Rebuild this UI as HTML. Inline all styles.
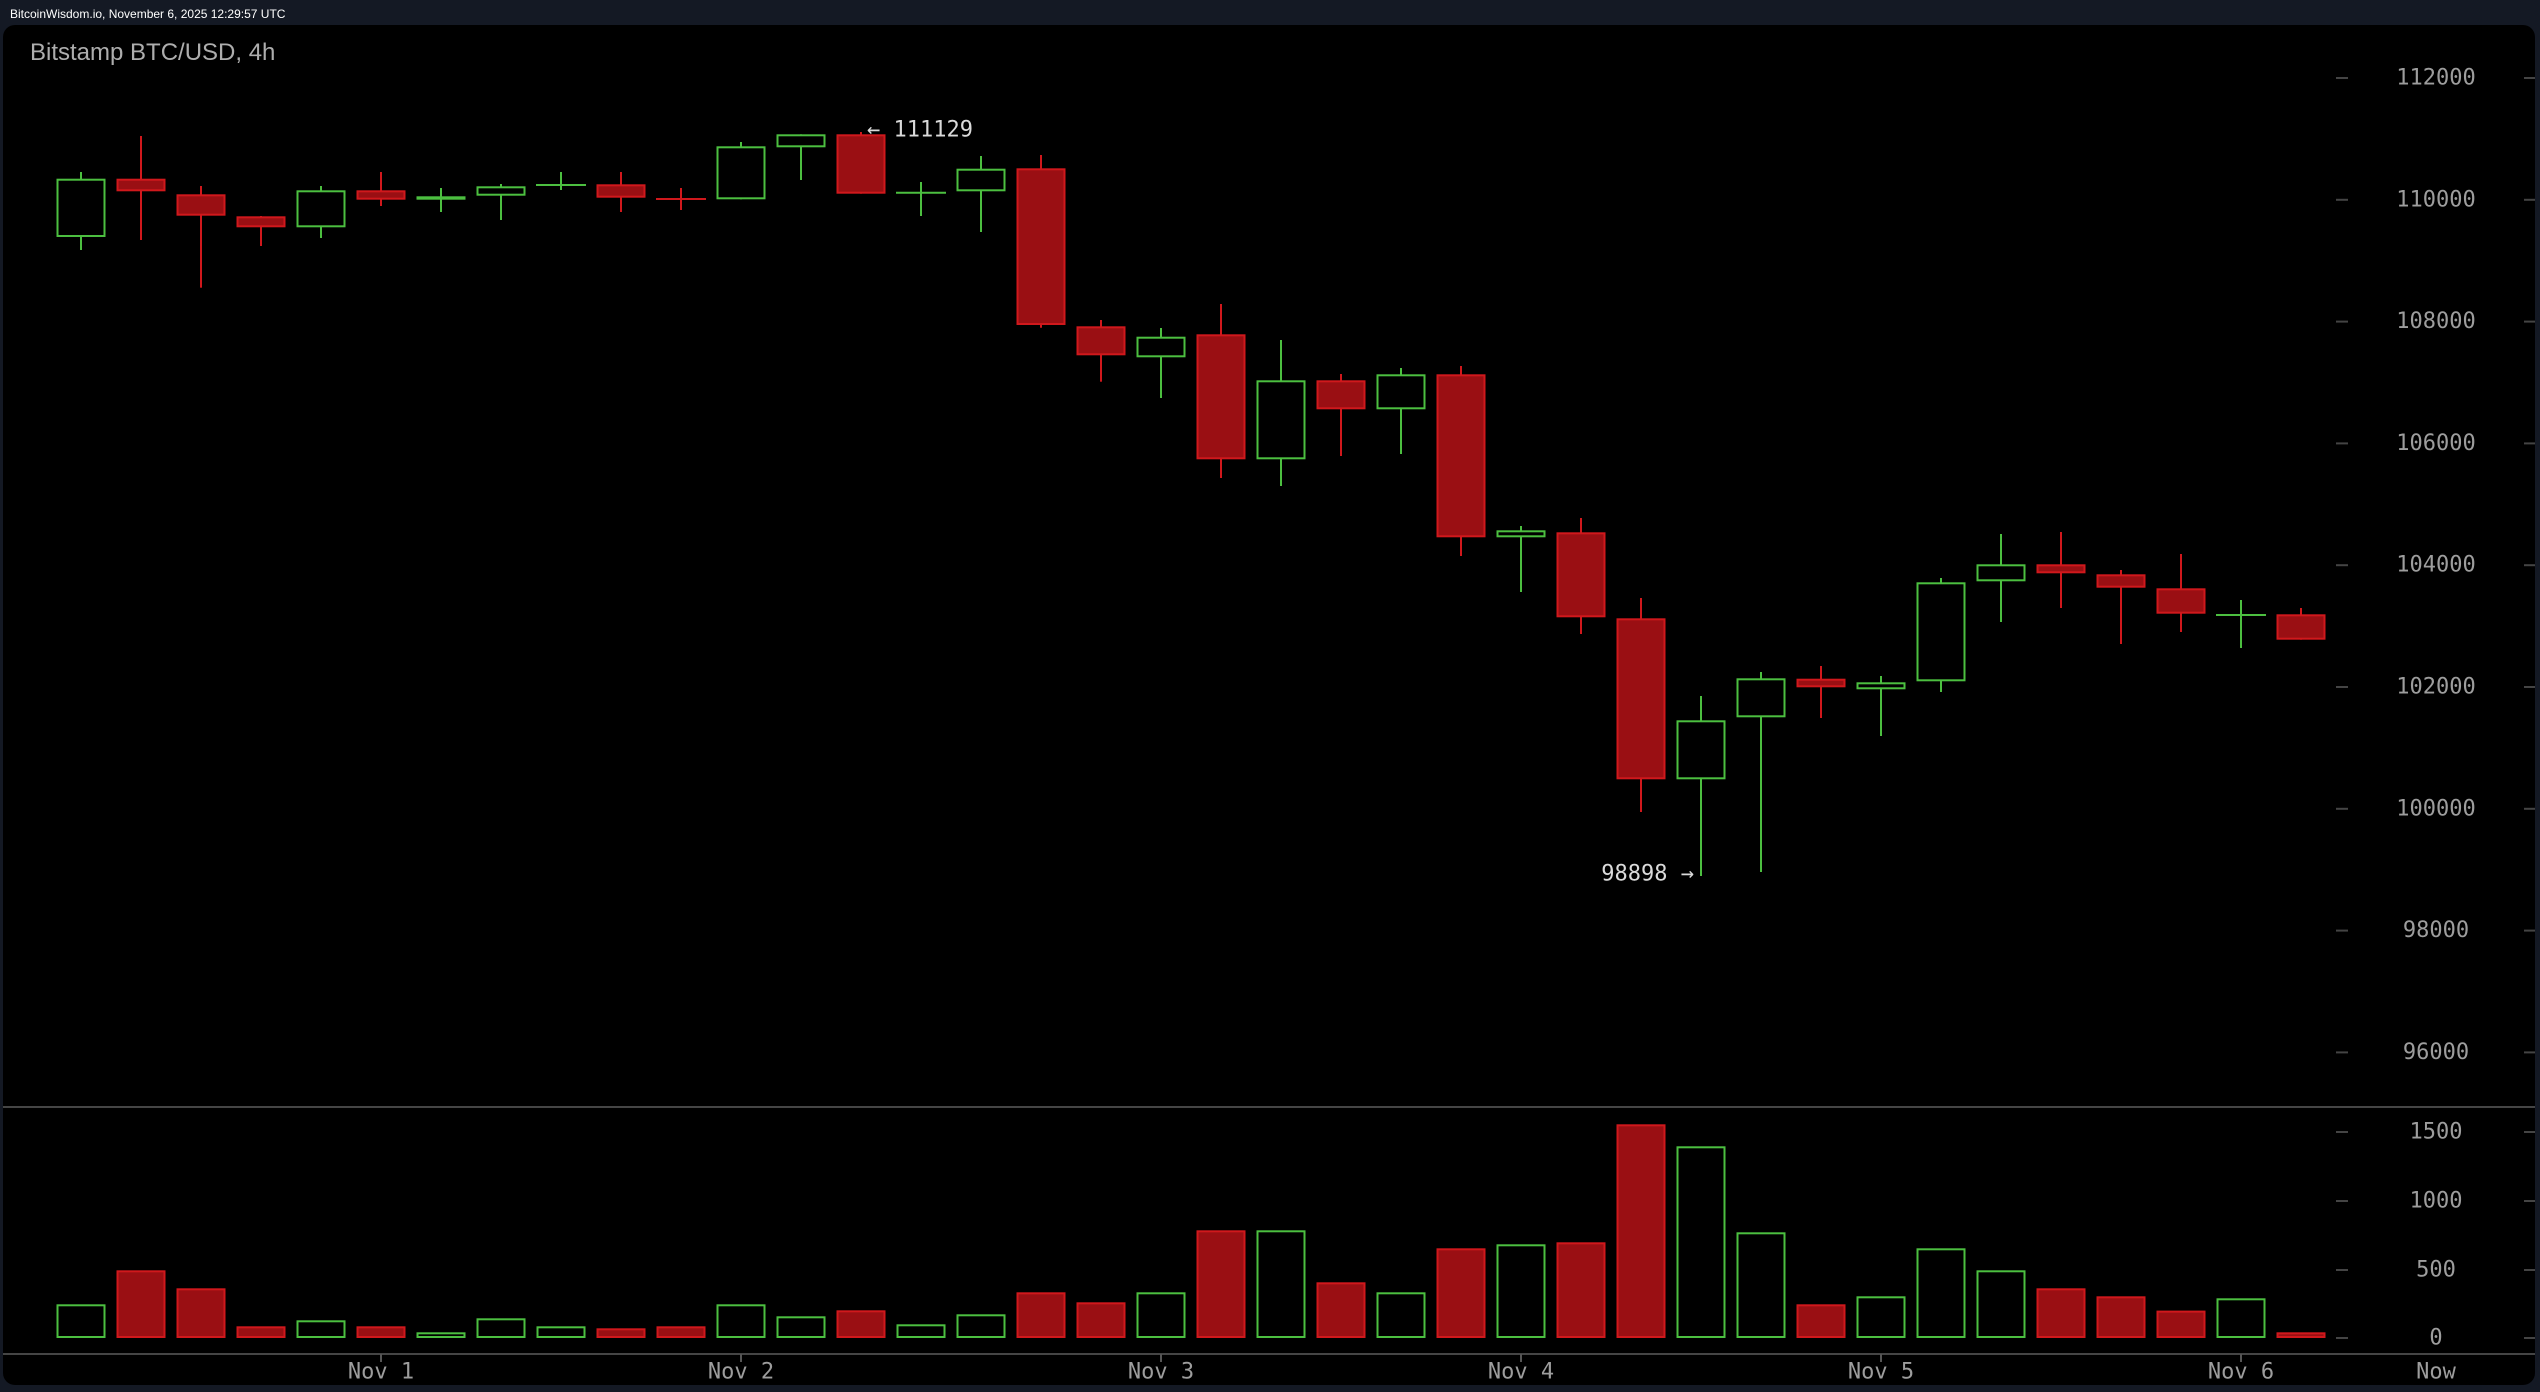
<!DOCTYPE html>
<html>
<head>
<meta charset="utf-8">
<style>
html,body{margin:0;padding:0;background:#141924;overflow:hidden;}
svg{display:block;}
.ax{font-family:"DejaVu Sans Mono","Liberation Mono",monospace;font-size:22px;fill:#9d9d9d;}
.an{font-family:"DejaVu Sans Mono","Liberation Mono",monospace;font-size:22px;fill:#dadada;}
</style>
</head>
<body>
<svg width="2540" height="1392" viewBox="0 0 2540 1392" xmlns="http://www.w3.org/2000/svg">
<rect x="0" y="0" width="2540" height="1392" fill="#141924"/>
<rect x="3" y="25" width="2532" height="1360" rx="12" ry="12" fill="#000"/>
<text x="10" y="18" font-family="'Liberation Sans',Arial,sans-serif" font-size="12" fill="#ffffff">BitcoinWisdom.io, November 6, 2025 12:29:57 UTC</text>
<text x="30" y="60" font-family="'Liberation Sans',Arial,sans-serif" font-size="24" fill="#adadad">Bitstamp BTC/USD, 4h</text>

<!-- separators -->
<line x1="3" y1="1107" x2="2535" y2="1107" stroke="#454545" stroke-width="2"/>
<line x1="3" y1="1354" x2="2535" y2="1354" stroke="#454545" stroke-width="2"/>

<!-- y axis ticks & labels -->
<g stroke="#444" stroke-width="2">
<line x1="2336" y1="78" x2="2348" y2="78"/><line x1="2524" y1="78" x2="2535" y2="78"/>
<line x1="2336" y1="199.8" x2="2348" y2="199.8"/><line x1="2524" y1="199.8" x2="2535" y2="199.8"/>
<line x1="2336" y1="321.6" x2="2348" y2="321.6"/><line x1="2524" y1="321.6" x2="2535" y2="321.6"/>
<line x1="2336" y1="443.4" x2="2348" y2="443.4"/><line x1="2524" y1="443.4" x2="2535" y2="443.4"/>
<line x1="2336" y1="565.2" x2="2348" y2="565.2"/><line x1="2524" y1="565.2" x2="2535" y2="565.2"/>
<line x1="2336" y1="687" x2="2348" y2="687"/><line x1="2524" y1="687" x2="2535" y2="687"/>
<line x1="2336" y1="808.8" x2="2348" y2="808.8"/><line x1="2524" y1="808.8" x2="2535" y2="808.8"/>
<line x1="2336" y1="930.6" x2="2348" y2="930.6"/><line x1="2524" y1="930.6" x2="2535" y2="930.6"/>
<line x1="2336" y1="1052.4" x2="2348" y2="1052.4"/><line x1="2524" y1="1052.4" x2="2535" y2="1052.4"/>
<line x1="2336" y1="1132" x2="2348" y2="1132"/><line x1="2524" y1="1132" x2="2535" y2="1132"/>
<line x1="2336" y1="1201" x2="2348" y2="1201"/><line x1="2524" y1="1201" x2="2535" y2="1201"/>
<line x1="2336" y1="1270" x2="2348" y2="1270"/><line x1="2524" y1="1270" x2="2535" y2="1270"/>
<line x1="2336" y1="1338" x2="2348" y2="1338"/><line x1="2524" y1="1338" x2="2535" y2="1338"/>
</g>
<g class="ax" text-anchor="middle" dominant-baseline="central">
<text x="2436" y="78">112000</text>
<text x="2436" y="199.8">110000</text>
<text x="2436" y="321.6">108000</text>
<text x="2436" y="443.4">106000</text>
<text x="2436" y="565.2">104000</text>
<text x="2436" y="687">102000</text>
<text x="2436" y="808.8">100000</text>
<text x="2436" y="930.6">98000</text>
<text x="2436" y="1052.4">96000</text>
<text x="2436" y="1132">1500</text>
<text x="2436" y="1201">1000</text>
<text x="2436" y="1270">500</text>
<text x="2436" y="1338">0</text>
</g>

<!-- x axis -->
<g stroke="#555" stroke-width="2">
<line x1="381" y1="1354" x2="381" y2="1362"/>
<line x1="741" y1="1354" x2="741" y2="1362"/>
<line x1="1161" y1="1354" x2="1161" y2="1362"/>
<line x1="1521" y1="1354" x2="1521" y2="1362"/>
<line x1="1881" y1="1354" x2="1881" y2="1362"/>
<line x1="2241" y1="1354" x2="2241" y2="1362"/>
</g>
<g class="ax" text-anchor="middle" dominant-baseline="central">
<text x="381" y="1372">Nov 1</text>
<text x="741" y="1372">Nov 2</text>
<text x="1161" y="1372">Nov 3</text>
<text x="1521" y="1372">Nov 4</text>
<text x="1881" y="1372">Nov 5</text>
<text x="2241" y="1372">Nov 6</text>
<text x="2436" y="1372">Now</text>
</g>

<!-- candles: wicks -->
<g stroke-width="2">
<line x1="81" y1="172" x2="81" y2="250" stroke="#4cbf40"/>
<line x1="141" y1="136" x2="141" y2="240" stroke="#d0181c"/>
<line x1="201" y1="186" x2="201" y2="287.7" stroke="#d0181c"/>
<line x1="261" y1="216" x2="261" y2="246" stroke="#d0181c"/>
<line x1="321" y1="186" x2="321" y2="238" stroke="#4cbf40"/>
<line x1="381" y1="172" x2="381" y2="206" stroke="#d0181c"/>
<line x1="441" y1="188" x2="441" y2="212" stroke="#4cbf40"/>
<line x1="501" y1="184" x2="501" y2="220" stroke="#4cbf40"/>
<line x1="561" y1="172" x2="561" y2="190" stroke="#4cbf40"/>
<line x1="621" y1="172" x2="621" y2="212" stroke="#d0181c"/>
<line x1="681" y1="188" x2="681" y2="210" stroke="#d0181c"/>
<line x1="741" y1="142" x2="741" y2="199.3" stroke="#4cbf40"/>
<line x1="801" y1="134.3" x2="801" y2="180" stroke="#4cbf40"/>
<line x1="861" y1="132" x2="861" y2="193.7" stroke="#d0181c"/>
<line x1="921" y1="182" x2="921" y2="216" stroke="#4cbf40"/>
<line x1="981" y1="156" x2="981" y2="232" stroke="#4cbf40"/>
<line x1="1041" y1="155" x2="1041" y2="327.7" stroke="#d0181c"/>
<line x1="1101" y1="320" x2="1101" y2="381.7" stroke="#d0181c"/>
<line x1="1161" y1="328" x2="1161" y2="398" stroke="#4cbf40"/>
<line x1="1221" y1="304" x2="1221" y2="478" stroke="#d0181c"/>
<line x1="1281" y1="340" x2="1281" y2="486" stroke="#4cbf40"/>
<line x1="1341" y1="374" x2="1341" y2="456" stroke="#d0181c"/>
<line x1="1401" y1="368" x2="1401" y2="454" stroke="#4cbf40"/>
<line x1="1461" y1="366" x2="1461" y2="556" stroke="#d0181c"/>
<line x1="1521" y1="526" x2="1521" y2="592" stroke="#4cbf40"/>
<line x1="1581" y1="518" x2="1581" y2="634" stroke="#d0181c"/>
<line x1="1641" y1="598" x2="1641" y2="812" stroke="#d0181c"/>
<line x1="1701" y1="696" x2="1701" y2="876" stroke="#4cbf40"/>
<line x1="1761" y1="672" x2="1761" y2="872" stroke="#4cbf40"/>
<line x1="1821" y1="666" x2="1821" y2="718" stroke="#d0181c"/>
<line x1="1881" y1="676" x2="1881" y2="736" stroke="#4cbf40"/>
<line x1="1941" y1="578" x2="1941" y2="692" stroke="#4cbf40"/>
<line x1="2001" y1="534" x2="2001" y2="622" stroke="#4cbf40"/>
<line x1="2061" y1="532" x2="2061" y2="608" stroke="#d0181c"/>
<line x1="2121" y1="570" x2="2121" y2="644" stroke="#d0181c"/>
<line x1="2181" y1="554" x2="2181" y2="632" stroke="#d0181c"/>
<line x1="2241" y1="600" x2="2241" y2="648" stroke="#4cbf40"/>
<line x1="2301" y1="608" x2="2301" y2="639.7" stroke="#d0181c"/>
</g>

<!-- candle bodies -->
<g stroke-width="2">
<rect x="57.5" y="179.7" width="47" height="56.3" fill="#000" stroke="#4cbf40"/>
<rect x="117.5" y="179.7" width="47" height="10.6" fill="#9a0f13" stroke="#d0181c"/>
<rect x="177.5" y="195.3" width="47" height="19.4" fill="#9a0f13" stroke="#d0181c"/>
<rect x="237.5" y="217.3" width="47" height="9" fill="#9a0f13" stroke="#d0181c"/>
<rect x="297.5" y="191.3" width="47" height="35" fill="#000" stroke="#4cbf40"/>
<rect x="357.5" y="191.3" width="47" height="7.4" fill="#9a0f13" stroke="#d0181c"/>
<rect x="417.5" y="197.3" width="47" height="1.4" fill="#4cbf40" stroke="#4cbf40"/>
<rect x="477.5" y="187.3" width="47" height="7.4" fill="#000" stroke="#4cbf40"/>
<line x1="536" y1="185" x2="586" y2="185" stroke="#4cbf40"/>
<rect x="597.5" y="185.3" width="47" height="11.4" fill="#9a0f13" stroke="#d0181c"/>
<line x1="656" y1="199" x2="706" y2="199" stroke="#d0181c"/>
<rect x="717.5" y="147.3" width="47" height="51" fill="#000" stroke="#4cbf40"/>
<rect x="777.5" y="135.3" width="47" height="11" fill="#000" stroke="#4cbf40"/>
<rect x="837.5" y="135.3" width="47" height="57.4" fill="#9a0f13" stroke="#d0181c"/>
<line x1="896" y1="192.7" x2="946" y2="192.7" stroke="#4cbf40"/>
<rect x="957.5" y="169.7" width="47" height="20.6" fill="#000" stroke="#4cbf40"/>
<rect x="1017.5" y="169.3" width="47" height="154.7" fill="#9a0f13" stroke="#d0181c"/>
<rect x="1077.5" y="327.3" width="47" height="27" fill="#9a0f13" stroke="#d0181c"/>
<rect x="1137.5" y="337.7" width="47" height="18.6" fill="#000" stroke="#4cbf40"/>
<rect x="1197.5" y="335.3" width="47" height="123" fill="#9a0f13" stroke="#d0181c"/>
<rect x="1257.5" y="381.3" width="47" height="77" fill="#000" stroke="#4cbf40"/>
<rect x="1317.5" y="381.3" width="47" height="27" fill="#9a0f13" stroke="#d0181c"/>
<rect x="1377.5" y="375.3" width="47" height="33" fill="#000" stroke="#4cbf40"/>
<rect x="1437.5" y="375.3" width="47" height="161" fill="#9a0f13" stroke="#d0181c"/>
<rect x="1497.5" y="531.3" width="47" height="5" fill="#000" stroke="#4cbf40"/>
<rect x="1557.5" y="533.3" width="47" height="83" fill="#9a0f13" stroke="#d0181c"/>
<rect x="1617.5" y="619.3" width="47" height="159" fill="#9a0f13" stroke="#d0181c"/>
<rect x="1677.5" y="721.3" width="47" height="57" fill="#000" stroke="#4cbf40"/>
<rect x="1737.5" y="679.3" width="47" height="37" fill="#000" stroke="#4cbf40"/>
<rect x="1797.5" y="679.7" width="47" height="6.6" fill="#9a0f13" stroke="#d0181c"/>
<rect x="1857.5" y="683.3" width="47" height="5" fill="#000" stroke="#4cbf40"/>
<rect x="1917.5" y="583.3" width="47" height="97" fill="#000" stroke="#4cbf40"/>
<rect x="1977.5" y="565.3" width="47" height="15" fill="#000" stroke="#4cbf40"/>
<rect x="2037.5" y="565.3" width="47" height="7" fill="#9a0f13" stroke="#d0181c"/>
<rect x="2097.5" y="575.3" width="47" height="11.4" fill="#9a0f13" stroke="#d0181c"/>
<rect x="2157.5" y="589.3" width="47" height="23.4" fill="#9a0f13" stroke="#d0181c"/>
<line x1="2216" y1="615" x2="2266" y2="615" stroke="#4cbf40"/>
<rect x="2277.5" y="615.3" width="47" height="23.4" fill="#9a0f13" stroke="#d0181c"/>
</g>

<!-- annotations -->
<text class="an" x="867" y="130" dominant-baseline="central">← 111129</text>
<text class="an" x="1694" y="874" text-anchor="end" dominant-baseline="central">98898 →</text>

<!-- volume bars -->
<g stroke-width="2">
<rect x="57.5" y="1305.3" width="47" height="31.7" fill="#000" stroke="#4cbf40"/>
<rect x="117.5" y="1271.3" width="47" height="65.7" fill="#9a0f13" stroke="#d0181c"/>
<rect x="177.5" y="1289.3" width="47" height="47.7" fill="#9a0f13" stroke="#d0181c"/>
<rect x="237.5" y="1327.3" width="47" height="9.7" fill="#9a0f13" stroke="#d0181c"/>
<rect x="297.5" y="1321.3" width="47" height="15.7" fill="#000" stroke="#4cbf40"/>
<rect x="357.5" y="1327.3" width="47" height="9.7" fill="#9a0f13" stroke="#d0181c"/>
<rect x="417.5" y="1333.3" width="47" height="3.7" fill="#000" stroke="#4cbf40"/>
<rect x="477.5" y="1319.3" width="47" height="17.7" fill="#000" stroke="#4cbf40"/>
<rect x="537.5" y="1327.3" width="47" height="9.7" fill="#000" stroke="#4cbf40"/>
<rect x="597.5" y="1329.3" width="47" height="7.7" fill="#9a0f13" stroke="#d0181c"/>
<rect x="657.5" y="1327.3" width="47" height="9.7" fill="#9a0f13" stroke="#d0181c"/>
<rect x="717.5" y="1305.3" width="47" height="31.7" fill="#000" stroke="#4cbf40"/>
<rect x="777.5" y="1317.3" width="47" height="19.7" fill="#000" stroke="#4cbf40"/>
<rect x="837.5" y="1311.3" width="47" height="25.7" fill="#9a0f13" stroke="#d0181c"/>
<rect x="897.5" y="1325.3" width="47" height="11.7" fill="#000" stroke="#4cbf40"/>
<rect x="957.5" y="1315.3" width="47" height="21.7" fill="#000" stroke="#4cbf40"/>
<rect x="1017.5" y="1293.3" width="47" height="43.7" fill="#9a0f13" stroke="#d0181c"/>
<rect x="1077.5" y="1303.3" width="47" height="33.7" fill="#9a0f13" stroke="#d0181c"/>
<rect x="1137.5" y="1293.3" width="47" height="43.7" fill="#000" stroke="#4cbf40"/>
<rect x="1197.5" y="1231.3" width="47" height="105.7" fill="#9a0f13" stroke="#d0181c"/>
<rect x="1257.5" y="1231.3" width="47" height="105.7" fill="#000" stroke="#4cbf40"/>
<rect x="1317.5" y="1283.3" width="47" height="53.7" fill="#9a0f13" stroke="#d0181c"/>
<rect x="1377.5" y="1293.3" width="47" height="43.7" fill="#000" stroke="#4cbf40"/>
<rect x="1437.5" y="1249.3" width="47" height="87.7" fill="#9a0f13" stroke="#d0181c"/>
<rect x="1497.5" y="1245.3" width="47" height="91.7" fill="#000" stroke="#4cbf40"/>
<rect x="1557.5" y="1243.3" width="47" height="93.7" fill="#9a0f13" stroke="#d0181c"/>
<rect x="1617.5" y="1125.3" width="47" height="211.7" fill="#9a0f13" stroke="#d0181c"/>
<rect x="1677.5" y="1147.3" width="47" height="189.7" fill="#000" stroke="#4cbf40"/>
<rect x="1737.5" y="1233.3" width="47" height="103.7" fill="#000" stroke="#4cbf40"/>
<rect x="1797.5" y="1305.3" width="47" height="31.7" fill="#9a0f13" stroke="#d0181c"/>
<rect x="1857.5" y="1297.3" width="47" height="39.7" fill="#000" stroke="#4cbf40"/>
<rect x="1917.5" y="1249.3" width="47" height="87.7" fill="#000" stroke="#4cbf40"/>
<rect x="1977.5" y="1271.3" width="47" height="65.7" fill="#000" stroke="#4cbf40"/>
<rect x="2037.5" y="1289.3" width="47" height="47.7" fill="#9a0f13" stroke="#d0181c"/>
<rect x="2097.5" y="1297.3" width="47" height="39.7" fill="#9a0f13" stroke="#d0181c"/>
<rect x="2157.5" y="1311.6" width="47" height="25.4" fill="#9a0f13" stroke="#d0181c"/>
<rect x="2217.5" y="1299.3" width="47" height="37.7" fill="#000" stroke="#4cbf40"/>
<rect x="2277.5" y="1333.3" width="47" height="3.7" fill="#9a0f13" stroke="#d0181c"/>
</g>
</svg>
</body>
</html>
